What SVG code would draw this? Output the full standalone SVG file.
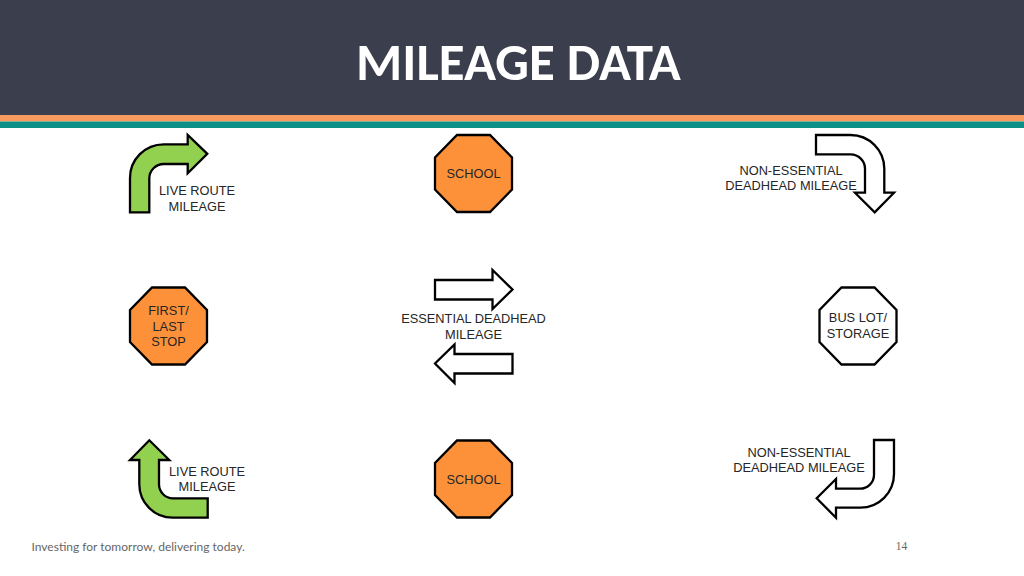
<svg xmlns="http://www.w3.org/2000/svg" width="1024" height="576" viewBox="0 0 1024 576">
<style>
.lbl{font-family:"Liberation Sans",Arial,sans-serif;font-size:12.8px;fill:#262626;text-anchor:middle}
.foot{font-family:Lato,"Noto Sans",sans-serif;fill:#666}
.g{fill:#92d050}.o{fill:#fd913a}.w{fill:#fff}
.s{stroke:#000;stroke-width:2.3;stroke-linejoin:miter}
</style>
<defs>
<polygon id="oct" points="-16.500,-38.500 16.500,-38.500 38.500,-16 38.500,16 16.500,38.500 -16.500,38.500 -38.500,16 -38.500,-16"/>
</defs>
<g id="header">
<rect x="0" y="0" width="1024" height="115" fill="#3b3e4c"/>
<rect x="0" y="115" width="1024" height="6.500" fill="#f79a5e"/>
<rect x="0" y="121.500" width="1024" height="6.500" fill="#0b8f86"/>
<text x="518.500" y="80" font-family="Carlito,Lato,sans-serif" font-size="52.900" font-weight="700" fill="#fff" text-anchor="middle">MILEAGE DATA</text>
</g>
<g id="connectors">
<path id="live-route-top" class="g s" d="M130 212.300V178A33.700 33.700 0 0 1 163.700 144.300H187.700V135L207.300 153.800L187.700 173.300V164H163.700A14.400 14.400 0 0 0 149.300 178.400V212.300Z"/>
<path id="live-route-bottom" class="g s" d="M207.700 517.700H172.700A33.400 33.400 0 0 1 139.300 484.300V460H130L149.300 440.300L169.300 460H159V484.300A14 14 0 0 0 173 498.300H207.700Z"/>
<path id="essential-right" class="w s" d="M435 280H492.500V270L512.500 289.500L492.500 309V299.500H435Z"/>
<path id="essential-left" class="w s" d="M512.500 354H454.500V344.500L435 363.500L454.500 383V373.500H512.500Z"/>
<path id="non-essential-top" class="w s" d="M816 135H850.500A33.800 33.800 0 0 1 884.300 168.800V192.700H894L874.700 212.300L855 192.700H865V168.800A14.400 14.400 0 0 0 850.600 154.400H816Z"/>
<path id="non-essential-bottom" class="w s" d="M894 440V474A33.700 33.700 0 0 1 860.300 507.700H836V517.700L816.700 498.300L836 479V488.700H860A14 14 0 0 0 874 474.700V440Z"/>
</g>
<g id="school-top"><use href="#oct" x="473.500" y="173.500" class="o s"/><text class="lbl" x="473.500" y="178">SCHOOL</text></g>
<g id="first-last-stop"><use href="#oct" x="168.500" y="326" class="o s"/><text class="lbl" x="168.500" y="315">FIRST/</text><text class="lbl" x="168.500" y="330.500">LAST</text><text class="lbl" x="168.500" y="346">STOP</text></g>
<g id="bus-lot"><use href="#oct" x="858" y="326" class="w s"/><text class="lbl" x="858" y="322">BUS LOT/</text><text class="lbl" x="858" y="337.500">STORAGE</text></g>
<g id="school-bottom"><use href="#oct" x="473.500" y="479" class="o s"/><text class="lbl" x="473.500" y="483.500">SCHOOL</text></g>
<g id="labels">
<text class="lbl" x="197" y="195">LIVE ROUTE</text><text class="lbl" x="197" y="210.500">MILEAGE</text>
<text class="lbl" x="207" y="476">LIVE ROUTE</text><text class="lbl" x="207" y="491">MILEAGE</text>
<text class="lbl" x="473.500" y="323">ESSENTIAL DEADHEAD</text><text class="lbl" x="473.500" y="339">MILEAGE</text>
<text class="lbl" x="791" y="175">NON-ESSENTIAL</text><text class="lbl" x="791" y="190">DEADHEAD MILEAGE</text>
<text class="lbl" x="799" y="457">NON-ESSENTIAL</text><text class="lbl" x="799" y="472">DEADHEAD MILEAGE</text>
</g>
<g id="footer">
<text class="foot" x="31.500" y="551" font-size="12">Investing for tomorrow, delivering today.</text>
<text x="901.500" y="550" font-family="Liberation Serif,serif" font-size="11.500" fill="#666" text-anchor="middle">14</text>
</g>
</svg>
